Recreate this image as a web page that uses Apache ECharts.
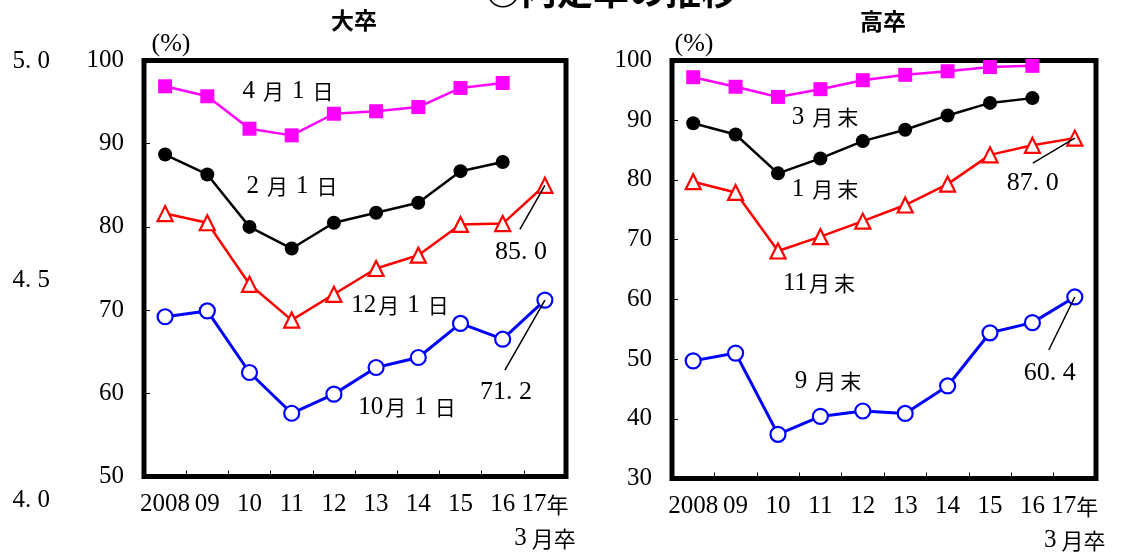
<!DOCTYPE html>
<html><head><meta charset="utf-8">
<script src="https://cdn.jsdelivr.net/npm/echarts@6/dist/echarts.min.js"></script>
<style>html,body{margin:0;padding:0;background:#fff}#c{width:1139px;height:559px}</style>
</head><body><div id="c"></div>
<script>
// ---- data ----
const categories = ['2008', '09', '10', '11', '12', '13', '14', '15', '16', '17年\n3月卒'];
// 大卒 (university)
const daiApr1 = [96.9, 95.7, 91.8, 91.0, 93.6, 93.9, 94.4, 96.7, 97.3, null];
const daiFeb1 = [88.7, 86.3, 80.0, 77.4, 80.5, 81.7, 82.9, 86.7, 87.8, null];
const daiDec1 = [81.6, 80.5, 73.1, 68.8, 71.9, 75.0, 76.6, 80.3, 80.4, 85.0];
const daiOct1 = [69.2, 69.9, 62.5, 57.6, 59.9, 63.1, 64.3, 68.4, 66.5, 71.2];
// 高卒 (high school)
const koMar = [97.2, 95.6, 93.9, 95.2, 96.7, 97.6, 98.2, 98.9, 99.1, null];
const koJan = [89.5, 87.6, 81.1, 83.6, 86.5, 88.4, 90.8, 92.9, 93.7, null];
const koNov = [79.7, 77.9, 68.1, 70.5, 73.1, 75.8, 79.3, 84.2, 85.8, 87.0];
const koSep = [49.7, 51.0, 37.4, 40.4, 41.3, 40.9, 45.5, 54.4, 56.1, 60.4];
// stray left scale ticks
const leftScale = { min: 4.0, max: 5.0, step: 0.5 };

const SERIF = '"Liberation Serif", "Noto Sans CJK JP", serif';
const CJK = '"Noto Sans CJK JP", sans-serif';

const chart = echarts.init(document.getElementById('c'), null, { renderer: 'canvas' });

const axisRich = {
  s: { fontFamily: '"Liberation Serif", serif', fontSize: 25, padding: [0, 5, 0, 0], color: '#000' },
  k: { fontFamily: CJK, fontSize: 22, color: '#000' },
  n: { fontFamily: '"Liberation Serif", serif', fontSize: 25, color: '#000' }
};
function xAx(gi) {
  return {
    type: 'category', gridIndex: gi, data: categories, boundaryGap: true,
    axisLine: { show: false },
    axisTick: { show: true, inside: true, length: 6, lineStyle: { color: '#000', width: 1 } },
    axisLabel: {
      color: '#000', fontFamily: SERIF, fontSize: 25, lineHeight: 34, margin: 11, interval: 0,
      formatter: function (v) {
        if (v.indexOf('\n') < 0) return v;
        const parts = v.split('\n');
        const m1 = parts[0].match(/^(\d+)(.*)$/);
        const m2 = parts[1].match(/^(\d+)(.*)$/);
        return '{n|' + m1[1] + '}{k|' + m1[2] + '}\n{s|' + m2[1] + '}{k|' + m2[2] + '}';
      },
      rich: axisRich
    },
    splitLine: { show: false }
  };
}
function yAx(gi, min, max) {
  return {
    type: 'value', gridIndex: gi, min: min, max: max, interval: 10,
    axisLine: { show: false },
    axisTick: { show: true, inside: true, length: 6, lineStyle: { color: '#000', width: 1 } },
    axisLabel: { color: '#000', fontFamily: SERIF, fontSize: 25, margin: 20 },
    splitLine: { show: false }
  };
}
function ser(gi, data, color, symbol, size, filled, lw) {
  return {
    type: 'line', xAxisIndex: gi, yAxisIndex: gi, data: data,
    symbol: symbol, symbolSize: size, showAllSymbol: true,
    lineStyle: { color: color, width: lw },
    itemStyle: filled ? { color: color } : { color: '#fff', borderColor: color, borderWidth: 2.2 },
    emphasis: { disabled: true }, animation: false, connectNulls: false
  };
}

chart.setOption({
  animation: false,
  backgroundColor: '#fff',
  grid: [
    { left: 144, top: 60.5, width: 422, height: 416, show: true, borderColor: '#000', borderWidth: 5, containLabel: false },
    { left: 672, top: 60.5, width: 424, height: 418, show: true, borderColor: '#000', borderWidth: 5, containLabel: false },
    { left: 52, top: 61, width: 10, height: 439, show: false }
  ],
  xAxis: [xAx(0), xAx(1), { type: 'value', gridIndex: 2, show: false }],
  yAxis: [yAx(0, 50, 100), yAx(1, 30, 100), {
    type: 'value', gridIndex: 2, min: leftScale.min, max: leftScale.max, interval: leftScale.step,
    axisLine: { show: false }, axisTick: { show: false }, splitLine: { show: false },
    axisLabel: { color: '#000', fontFamily: SERIF, fontSize: 25, margin: 2,
                 formatter: v => v.toFixed(1).replace('.', '. ') }
  }],
  series: [
    ser(0, daiOct1, '#0000ff', 'circle', 15, false, 3),
    ser(0, daiDec1, '#ff0000', 'triangle', 15, false, 2.5),
    ser(0, daiFeb1, '#000000', 'circle', 14, true, 2.5),
    ser(0, daiApr1, '#ff00ff', 'rect', 14, true, 2.5),
    ser(1, koSep, '#0000ff', 'circle', 15, false, 3),
    ser(1, koNov, '#ff0000', 'triangle', 15, false, 2.5),
    ser(1, koJan, '#000000', 'circle', 14, true, 2.5),
    ser(1, koMar, '#ff00ff', 'rect', 14, true, 2.5)
  ]
});

const annRich = {
  d: { fontFamily: '"Liberation Serif", serif', fontSize: 25, padding: [0, 6], fill: '#000' },
  n: { fontFamily: '"Liberation Serif", serif', fontSize: 25, fill: '#000' },
  k: { fontFamily: CJK, fontSize: 21, padding: [0, 2], fill: '#000' }
};
function txt(x, y, text, size, family, weight) {
  return {
    type: 'text', x: x, y: y, z: 100, silent: true,
    style: { text: text, fill: '#000', fontSize: size, fontFamily: family, fontWeight: weight || 'normal',
             align: 'center', verticalAlign: 'middle' }
  };
}
function rtxt(x, y, text) {
  return {
    type: 'text', x: x, y: y, z: 100, silent: true,
    style: { text: text, fill: '#000', fontSize: 21, fontFamily: CJK, rich: annRich,
             align: 'center', verticalAlign: 'middle' }
  };
}
// anchored value callouts: label + leader line from data point
function callout(gi, data, idx, text, lineDx, lineDy, labDx, labDy) {
  const p = chart.convertToPixel({ xAxisIndex: gi, yAxisIndex: gi }, [idx, data[idx]]);
  return [
    { type: 'line', z: 90, silent: true, shape: { x1: p[0], y1: p[1], x2: p[0] + lineDx, y2: p[1] + lineDy },
      style: { stroke: '#000', lineWidth: 1.5 } },
    txt(p[0] + labDx, p[1] + labDy, text.replace('.', '. '), 26, SERIF)
  ];
}

const g = [
  txt(611, -9, '○内定率の推移', 36, CJK, 'bold'),
  txt(354, 20, '大卒', 23, CJK, 'bold'),
  txt(883, 21, '高卒', 23, CJK, 'bold'),
  txt(171, 44, '(%)', 26, SERIF),
  txt(694, 44, '(%)', 26, SERIF),
  rtxt(286, 91, '{d|4}{k|月}{d|1}{k|日}'),
  rtxt(290, 186, '{d|2}{k|月}{d|1}{k|日}'),
  rtxt(401, 305, '{n|12}{k|月}{d|1}{k|日}'),
  rtxt(408, 407, '{n|10}{k|月}{d|1}{k|日}'),
  rtxt(823, 117, '{d|3}{k|月}{k|末}'),
  rtxt(823, 189, '{d|1}{k|月}{k|末}'),
  rtxt(820, 283, '{n|11}{k|月}{k|末}'),
  rtxt(826, 381, '{d|9}{k|月}{k|末}')
]
  .concat(callout(0, daiDec1, 9, '85.0', -25, 44, -24, 67))
  .concat(callout(0, daiOct1, 9, '71.2', -40, 70, -39, 92))
  .concat(callout(1, koNov, 9, '87.0', -42, 25, -42, 45))
  .concat(callout(1, koSep, 9, '60.4', -26, 53, -25, 76));

chart.setOption({ graphic: g });
</script></body></html>
